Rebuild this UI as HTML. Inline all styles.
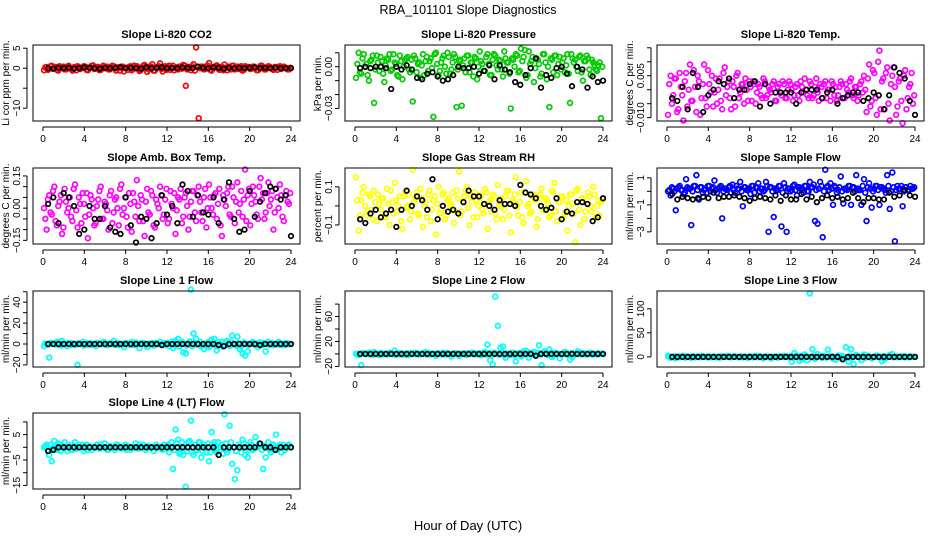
<!DOCTYPE html>
<html><head><meta charset="utf-8"><title>RBA_101101 Slope Diagnostics</title>
<style>
html,body{margin:0;padding:0;background:#fff;}
svg{display:block;font-family:"Liberation Sans",Arial,sans-serif;}
</style></head>
<body>
<svg id="chart" width="936" height="540" viewBox="0 0 936 540" xmlns="http://www.w3.org/2000/svg">
<rect width="936" height="540" fill="#fff"/>
<text x="468" y="14" text-anchor="middle" font-size="12.5">RBA_101101  Slope Diagnostics</text>
<text x="468" y="530" text-anchor="middle" font-size="13">Hour of Day (UTC)</text>
</svg>
<script>
// ---- data ----
const xTicks = [0,4,8,12,16,20,24];

const co2Raw = [-0.5,0.3,-0.2,0.6,0.1,-0.4,0.5,0.2,-0.3,0.4,0.0,-0.6,0.3,0.5,-0.2,0.1,0.4,-0.5,0.2,0.7,
-0.1,0.3,-0.4,0.6,0.2,-0.3,0.1,0.5,-0.6,0.2,0.4,-0.8,0.1,0.3,-0.5,0.6,0.5,-0.7,0.2,0.8,
-0.9,0.4,1.0,-0.6,0.3,1.2,-0.8,0.5,0.2,-0.4,0.6,0.1,-0.3,0.4,0.8,-4.4,0.3,-0.5,1.0,5.2,
-12.5,0.4,-0.3,0.5,1.3,-0.6,0.2,0.7,-0.4,0.3,0.9,-0.5,0.1,0.6,-0.3,0.4,0.2,-0.6,0.5,0.3,
-0.2,0.4,0.1,-0.5,0.6,0.2,-0.3,0.5,0.1,-0.4,0.3,0.2,-0.2,0.4,0.0,-0.3];
const co2RawB = [0.2,-0.4,0.5,-0.1,0.3,-0.6,0.1,0.4,-0.3,0.6,-0.2,0.2,-0.5,0.3,0.0,0.5,-0.4,0.1,0.6,-0.2,
0.3,-0.5,0.2,0.0,0.4,-0.3,0.6,-0.1,0.2,-0.6,0.4,0.1,-0.4,0.5,-0.2,0.3,0.0,-0.5,0.6,0.2,
-0.3,0.4,-0.6,0.1,0.5,-0.2,0.3,-0.4,0.6,0.0,-0.5,0.2,0.4,-0.1,0.7,-0.3,0.1,0.5,-0.6,0.3,
0.0,0.4,-0.2,0.6,-0.4,0.2,0.5,-0.1,0.3,-0.5,0.1,0.4,-0.3,0.6,0.0,-0.2,0.5,-0.4,0.2,0.3,
-0.1,0.4,-0.5,0.2,0.6,-0.3,0.1,0.4,-0.2,0.3,-0.4,0.5,0.0,0.2,-0.3,0.1];
const co2Avg = [0,-0.1,0.1,0,0.1,-0.1,0,0.2,0.1,0,-0.1,0.1,0,0.1,0.2,0,0.1,0,-0.1,0.2,0,0.1,0.2,0,0.1,0,0.2,0.1,0,0.4,0.1,0,0.2,0.1,-0.1,0.1,0,0.1,0,0.1,0.2,0,0.1,0,0.1,0,0,0];

const presRaw = [-0.008,0.01,-0.005,0.009,0.002,-0.01,0.005,-0.026,0.008,-0.003,0.004,-0.011,0.006,0.009,-0.002,0.003,-0.006,0.008,-0.009,0.005,
0.007,-0.004,-0.025,0.006,0.002,-0.008,0.009,0.004,-0.003,0.006,-0.036,0.01,-0.006,0.003,0.008,-0.005,0.007,-0.002,0.009,-0.029,
0.004,-0.028,0.006,0.008,-0.004,0.003,0.007,-0.009,0.011,0.002,-0.003,0.009,-0.006,0.005,0.008,-0.002,0.004,-0.007,0.006,0.003,
-0.03,0.005,0.009,-0.004,0.013,0.007,-0.008,0.011,0.004,-0.011,0.006,0.002,-0.005,0.009,-0.009,-0.029,0.005,0.008,-0.006,0.007,
0.003,-0.004,0.009,-0.026,0.006,0.005,-0.003,0.008,-0.01,0.004,0.006,-0.006,0.003,-0.002,0.001,-0.037];
const presRawB = [0.002,-0.004,0.006,0.0,-0.006,0.004,0.008,-0.002,0.003,0.007,-0.005,0.001,0.005,-0.003,0.009,0.002,-0.007,0.004,0.0,0.006,
-0.002,0.005,0.008,-0.004,0.003,0.001,-0.006,0.007,0.004,-0.001,0.009,0.002,-0.003,0.006,0.0,0.01,-0.005,0.003,0.007,-0.002,
0.005,0.001,-0.004,0.008,0.003,-0.007,0.006,0.0,0.004,-0.003,0.007,0.002,-0.006,0.009,0.001,0.005,-0.002,0.011,0.003,-0.005,
0.006,0.0,0.008,-0.003,0.004,0.012,-0.006,0.002,0.007,-0.001,0.005,-0.007,0.009,0.003,0.0,0.006,-0.004,0.008,0.002,-0.002,
0.006,0.001,-0.005,0.009,0.003,0.0,0.007,-0.004,0.004,0.008,-0.002,0.005,0.001,-0.003,0.003,0.0];
const presAvg = [-0.001,0,-0.001,0,0,-0.001,-0.016,0,-0.002,0.001,-0.002,-0.008,-0.009,-0.005,-0.004,-0.007,-0.01,-0.009,-0.006,0,-0.001,-0.001,0,-0.005,-0.003,0.001,-0.009,0.001,-0.002,-0.004,-0.011,-0.013,-0.006,-0.001,0.006,-0.015,-0.006,-0.008,-0.001,0,-0.005,-0.014,0,-0.002,-0.015,-0.007,-0.011,-0.01];

const tempRaw = [-0.009,0.005,-0.002,0.004,-0.007,0.001,-0.011,0.006,0.0,-0.004,0.007,-0.008,0.003,-0.003,0.009,-0.006,0.002,0.005,-0.001,-0.005,
0.004,-0.007,0.008,0.001,-0.003,0.003,-0.006,0.006,-0.001,0.002,0.004,-0.004,0.001,0.003,-0.005,0.002,-0.002,0.004,-0.003,0.001,
-0.001,0.003,-0.004,0.002,-0.002,0.002,-0.003,0.003,0.0,-0.002,0.002,-0.004,0.001,0.004,-0.002,0.003,-0.003,0.001,-0.001,0.002,
-0.003,0.003,0.0,-0.004,0.002,0.001,-0.002,0.003,-0.003,0.002,-0.001,0.004,-0.003,0.001,-0.002,0.003,0.005,-0.008,0.009,-0.004,
0.006,-0.009,0.014,0.003,-0.007,0.008,-0.011,0.005,0.001,-0.006,0.004,-0.012,0.007,-0.003,0.002,-0.005];
const tempRawB = [0.002,-0.005,0.004,-0.008,0.006,-0.002,0.003,-0.006,0.009,-0.004,0.001,0.005,-0.009,0.002,-0.003,0.007,-0.001,-0.006,0.004,0.0,
-0.004,0.006,-0.002,0.003,-0.007,0.001,0.005,-0.003,0.002,-0.005,0.0,0.003,-0.004,0.002,-0.001,0.001,-0.003,0.003,-0.002,0.0,
0.002,-0.004,0.001,-0.001,0.003,-0.003,0.0,0.002,-0.004,0.001,-0.002,0.003,-0.001,0.0,-0.003,0.002,-0.002,0.004,-0.004,0.001,
0.002,-0.003,0.0,0.003,-0.002,-0.004,0.001,0.002,-0.003,0.0,0.003,-0.002,0.001,-0.004,0.002,-0.001,0.0,0.004,-0.006,0.007,
-0.003,0.01,-0.007,0.004,0.006,-0.005,0.002,0.008,-0.009,0.003,-0.004,0.005,-0.007,0.001,0.006,-0.002];
const tempAvg = [-0.003,-0.004,0.001,-0.007,0.006,0.001,-0.008,-0.002,0.0,0.003,0.002,0.004,-0.003,0.0,0.0,0.002,0.003,-0.006,0.002,-0.005,-0.001,-0.001,-0.001,-0.001,-0.005,-0.001,0.0,0.0,0.0,-0.003,-0.001,0.0,-0.005,-0.003,-0.002,-0.001,-0.001,-0.004,-0.003,-0.001,-0.002,-0.007,-0.002,0.008,0.006,0.004,-0.004,-0.009];

const ambRaw = [0.0,-0.1,0.06,-0.03,0.1,-0.08,0.03,-0.12,0.09,-0.02,0.05,-0.06,0.11,-0.09,0.02,0.07,-0.04,-0.14,0.06,0.0,
-0.07,0.04,0.1,-0.05,0.02,-0.1,0.08,-0.02,0.05,-0.08,0.11,0.0,-0.04,0.07,-0.11,0.03,0.13,-0.06,0.04,-0.13,
0.09,-0.03,0.06,-0.09,0.02,0.1,-0.05,0.04,-0.07,0.08,0.0,-0.12,0.05,0.09,-0.04,0.07,-0.1,0.03,0.08,-0.06,
0.1,-0.02,0.05,-0.09,0.11,0.0,0.06,-0.05,0.09,-0.13,0.04,0.07,-0.03,0.1,-0.07,0.12,0.02,-0.04,0.18,0.06,
-0.08,0.1,0.03,-0.05,0.14,0.07,-0.02,0.12,0.04,-0.1,0.09,0.0,0.06,-0.06,0.08,0.02];
const ambRawB = [-0.05,0.04,-0.02,0.08,-0.06,0.01,0.06,-0.09,0.03,0.0,-0.04,0.09,-0.01,0.05,-0.07,0.02,0.07,-0.03,0.04,-0.08,
0.01,0.08,-0.05,0.03,-0.01,0.06,-0.07,0.04,0.0,0.09,-0.03,0.05,-0.09,0.02,0.07,-0.04,0.01,0.06,-0.06,0.03,
-0.02,0.08,-0.08,0.04,0.0,0.06,-0.03,0.09,-0.05,0.02,0.07,-0.01,0.04,-0.07,0.05,0.01,-0.04,0.08,-0.02,0.06,
0.03,-0.06,0.09,0.0,0.05,-0.03,0.07,0.02,-0.08,0.06,0.01,0.1,-0.04,0.05,0.03,-0.02,0.08,0.04,-0.06,0.09,
0.02,0.06,-0.03,0.1,0.04,-0.05,0.07,0.01,0.08,-0.02,0.05,0.11,-0.04,0.06,0.03,0.07];
const ambAvg = [0.02,0.05,-0.07,0.07,0.05,0.01,-0.12,-0.1,0.01,-0.05,-0.05,0.01,-0.09,-0.11,-0.12,0.05,-0.08,-0.16,-0.04,-0.05,-0.14,-0.07,0.06,-0.03,0.01,-0.07,0.11,0.08,-0.04,0.06,-0.02,-0.03,0.05,-0.07,0.04,0.12,-0.05,-0.11,-0.1,0.08,-0.04,0.03,0.07,0.1,0.09,0.04,0.06,-0.13];

const rhRaw = [0.15,-0.13,0.03,0.1,-0.05,0.06,-0.02,0.08,-0.08,0.01,0.04,-0.06,0.09,-0.1,0.02,0.12,-0.03,0.05,-0.12,0.07,
0.0,-0.07,0.19,0.04,-0.04,0.09,-0.11,0.02,0.06,-0.08,0.03,-0.15,0.1,-0.02,0.07,-0.05,0.04,0.01,-0.09,0.08,
0.18,-0.03,0.05,0.1,-0.1,0.02,0.07,-0.06,0.04,-0.02,0.09,-0.12,0.03,0.06,-0.04,0.11,0.0,-0.07,0.05,0.08,
-0.14,0.02,0.15,-0.05,0.07,-0.09,0.13,0.01,-0.03,0.06,-0.11,0.04,0.09,-0.02,0.03,-0.06,0.08,0.12,-0.08,0.02,
0.05,-0.04,-0.13,0.06,0.01,-0.19,0.09,-0.1,0.04,-0.03,0.07,0.0,0.1,-0.06,0.03,0.02];
const rhRawB = [0.03,-0.05,0.07,0.0,-0.03,0.05,-0.07,0.02,0.06,-0.02,0.04,-0.06,0.01,0.08,-0.04,0.03,0.0,-0.08,0.05,-0.01,
0.06,-0.03,0.02,0.07,-0.05,0.04,0.0,-0.06,0.08,-0.02,0.05,0.01,-0.04,0.06,-0.07,0.03,0.0,0.07,-0.03,0.04,
-0.05,0.02,0.08,-0.01,0.05,-0.06,0.03,0.0,0.06,-0.04,0.07,0.02,-0.03,0.05,-0.07,0.01,0.04,-0.02,0.08,-0.05,
0.03,0.06,-0.01,0.02,-0.06,0.07,0.0,-0.04,0.05,0.03,-0.07,0.06,-0.02,0.04,0.01,-0.05,0.07,-0.03,0.02,0.05,
-0.06,0.03,0.0,0.06,-0.04,0.08,-0.02,0.04,-0.07,0.01,0.05,-0.03,0.06,0.0,-0.05,0.03];
const rhAvg = [-0.07,-0.09,-0.04,-0.02,-0.06,-0.04,-0.02,-0.11,-0.02,0.08,0.0,0.05,0.03,-0.02,0.14,-0.07,0.0,-0.03,-0.02,-0.04,0.02,0.08,0.05,0.05,0.01,0.0,-0.02,0.03,0.01,0.01,0.0,0.11,0.07,0.06,0.04,0.0,-0.02,-0.01,0.04,-0.07,-0.03,-0.04,0.02,0.02,0.01,-0.08,-0.06,0.04];

const flowRaw = [0.0,-0.3,0.2,-1.4,0.3,0.1,-0.2,0.9,0.2,-2.5,0.4,1.2,-0.6,0.3,0.1,-0.1,0.4,0.2,0.8,-0.1,
0.3,-2.0,0.2,0.1,0.4,0.5,-0.1,0.2,0.7,-1.1,0.3,0.1,-0.2,0.4,0.3,0.6,0.2,0.0,0.7,-3.0,
0.3,-1.9,0.1,0.4,-2.6,0.6,-3.0,0.2,0.1,0.5,-0.3,0.3,0.2,0.4,0.0,0.7,0.3,-2.2,-2.4,0.7,
-3.4,1.6,0.4,0.6,-1.0,0.3,0.1,1.1,-0.9,0.2,0.4,-1.0,0.3,1.2,0.1,-1.0,0.9,-2.2,0.6,-1.2,
0.2,0.4,-1.0,0.3,0.1,1.2,-1.3,1.4,-3.7,0.4,0.2,-1.1,0.3,0.1,0.4,0.2];
const flowRawB = [0.1,0.3,0.0,0.2,0.4,0.1,-0.1,0.3,0.2,0.0,0.4,0.1,0.3,-0.1,0.2,0.4,0.0,0.3,0.1,0.2,
0.4,0.0,0.2,0.3,-0.1,0.1,0.4,0.2,0.0,0.3,0.1,0.2,0.4,-0.1,0.3,0.0,0.2,0.1,0.4,0.3,
0.0,0.2,0.1,0.4,-0.1,0.3,0.2,0.0,0.4,0.1,0.3,0.2,-0.1,0.4,0.0,0.3,0.5,0.1,0.2,0.4,
0.0,0.3,0.1,0.2,0.4,-0.1,0.3,0.0,0.2,0.1,0.4,0.3,0.0,0.2,0.1,0.4,-0.1,0.3,0.2,0.0,
0.4,0.1,0.3,0.2,-0.1,0.4,0.0,0.3,0.1,0.2,0.4,0.0,0.3,0.1,0.2,0.3];
const flowAvg = [-0.2,-0.6,-0.4,-0.5,-0.6,-0.5,-0.4,-0.5,-0.1,-0.5,-0.4,-0.4,-0.3,-0.4,-0.5,-0.7,-0.5,-0.4,-0.5,-0.6,-0.3,-0.7,-0.3,-0.6,-0.6,-0.2,-0.6,-0.4,-0.8,-0.5,-0.3,-0.5,-0.4,-0.6,-0.5,-0.1,-0.5,-0.8,-0.5,-0.5,-0.6,-0.6,-0.1,-0.4,-0.3,0.1,-0.3,-0.4];

const line1Raw = [-2,0,-13,1,0,2,-1,3,0,-2,1,0,-1,-20,0,2,0,-1,1,0,
-2,1,0,2,-1,0,1,3,0,-1,0,-3,1,0,2,-1,0,-4,1,0,
-3,0,1,-1,0,2,0,-1,1,0,-4,3,5,0,-8,-9,1,52,10,5,
0,-2,-5,1,-3,4,5,-6,0,2,-1,3,-2,8,0,7,-5,-9,-11,-7,
0,2,-1,-3,0,1,-7,2,0,-1,0,2,-1,0,1,0];
const line1Avg = [0,0,0,0,0,0,0,0,0,0,0,0,0,0,0,0,0,0,0,0,0,0,-1,0,0,0,0,0,0,0,0,0,0,-1,-2,0,0,0,0,0,0,-1,0,0,0,0,0,0];

const line2Raw = [0,-2,-18,1,0,2,-1,3,0,-2,1,0,-1,2,0,5,0,-1,1,0,
-2,1,0,2,-1,0,1,3,0,-1,0,-3,1,0,2,-1,0,-4,1,0,
-3,0,1,-1,0,2,0,-1,1,0,3,15,-10,-17,92,45,10,12,-6,0,
-2,2,-12,1,-4,4,5,-6,0,3,-1,14,-18,4,0,7,-5,2,1,-7,
0,3,-1,-9,-5,1,4,2,0,-1,0,2,-1,0,1,0];
const line2Avg = [0,0,0,0,0,0,0,0,0,0,0,0,0,0,0,0,0,0,0,0,0,0,0,0,0,0,0,0,0,0,0,0,0,0,-3,0,0,0,0,0,0,0,0,0,0,0,0,0];

const line3Raw = [2,-2,0,-3,1,0,2,-1,0,-2,1,0,-1,2,0,1,0,-1,1,0,
-2,1,0,2,-1,0,1,0,0,-1,0,-2,1,0,2,-1,0,-3,1,0,
-3,0,1,-1,0,2,0,-1,-10,8,3,-8,-5,5,-7,132,16,-4,6,2,
-2,0,15,1,-4,-6,3,-2,0,20,-10,16,-15,4,0,-7,5,2,1,-3,
0,3,-1,-9,-5,1,4,6,0,-1,0,2,-1,0,1,0];
const line3Avg = [0,0,0,0,0,0,0,0,0,0,0,0,0,0,0,0,0,0,0,0,0,0,0,0,0,0,0,0,0,0,0,0,0,-5,0,0,0,0,0,0,0,0,0,0,0,0,0,0];

const line4Raw = [0,1,-3,-5.5,2.5,-1,1,0,2,-1.5,0,-1,2,0,0,1,0,-1,0,0,
0,0,1,0,0,-1,0,0,1,0,0,0,-1,0,0,0,0,1,0,0,
0,0,0,0,0,0,-1,0,1,0,-8.5,7,3,-2,-3,-15.5,2,10.5,-3,-1,
2,-4,1,-2,-5.5,6,2,-2,0,1,13,-2,8.5,-6.5,-12.5,-9,0,3,-3,-4,
2,-1,4,0,1,-8.5,-4,2,-2,1,5,0,-2,1,0,1];
const line4Avg = [-1.5,-1,0,0,0,0,0,0,0,0,0,0,0,0,0,0,0,0,0,0,0,0,0,0,0,0,0,0,0,0,0,0,0,-3,0,0,0,0,0,0,0,1.5,0,0,-1,0,0,0];

// near-zero band of line-flow slopes (shared across line panels)
const lineBandRaw = [0.5,-1,1,0,-0.5,1.5,-1.5,0.5,0,1,-1,0.5,-0.5,1,0,-1.5,1,0.5,-1,0,
1,-0.5,0,1.5,-1,0.5,0,-1,1,0,-0.5,1,0.5,-1,0,1.5,-0.5,0,1,-1,
0.5,0,-1.5,1,0,-0.5,1,0.5,-2,2,-1,1.5,-2.5,2,0,-1.5,2.5,-2,1,-1,
2,-1.5,0,1.5,-2,1,-1,2,0,-2.5,1.5,-1,2,0,-1.5,1,-2,1.5,0,-1,
1,-0.5,0,1.5,-1,0.5,0,-1,1,0,-0.5,1,0,-1,0.5,0];

// ---- panel configuration (layout) ----
const panels = [
 {name:'co2',title:'Slope Li-820 CO2',ylab:'Li cor ppm per min.',col:0,row:0,dom:[-13.2,5.8],ticks:[-10,-5,0,5],labels:{'-10':'\u221210','0':'0','5':'5'},color:'#ff0000',raw:[co2Raw,co2RawB],avg:co2Avg},
 {name:'pressure',title:'Slope Li-820 Pressure',ylab:'kPa per min.',col:1,row:0,dom:[-0.039,0.0156],ticks:[-0.03,-0.02,-0.01,0,0.01],labels:{'-0.03':'\u22120.03','0':'0.00'},color:'#00cc00',raw:[presRaw,presRawB],avg:presAvg},
 {name:'li820-temp',title:'Slope Li-820 Temp.',ylab:'degrees C per min.',col:2,row:0,dom:[-0.0112,0.016],ticks:[-0.01,-0.005,0,0.005,0.01,0.015],labels:{'-0.01':'\u22120.010','0.005':'0.005'},color:'#ff00ff',raw:[tempRaw,tempRawB],avg:tempAvg},
 {name:'amb-box-temp',title:'Slope Amb. Box Temp.',ylab:'degrees C per min.',col:0,row:1,dom:[-0.167,0.187],ticks:[-0.15,-0.1,-0.05,0,0.05,0.1,0.15],labels:{'-0.15':'\u22120.15','0':'0.00','0.15':'0.15'},color:'#ff00ff',raw:[ambRaw,ambRawB],avg:ambAvg},
 {name:'gas-stream-rh',title:'Slope Gas Stream RH',ylab:'percent per min.',col:1,row:1,dom:[-0.2,0.199],ticks:[-0.1,0,0.1],labels:{'-0.1':'\u22120.1','0.1':'0.1'},color:'#ffff00',raw:[rhRaw,rhRawB],avg:rhAvg},
 {name:'sample-flow',title:'Slope Sample Flow',ylab:'ml/min per min.',col:2,row:1,dom:[-3.9,1.73],ticks:[-3,-2,-1,0,1],labels:{'-3':'\u22123','-1':'\u22121','1':'1'},color:'#0000ff',raw:[flowRaw,flowRawB],avg:flowAvg},
 {name:'line1-flow',title:'Slope Line 1 Flow',ylab:'ml/min per min.',col:0,row:2,dom:[-22,50.7],ticks:[-20,-10,0,10,20,30,40,50],labels:{'-20':'\u221220','0':'0','20':'20','40':'40'},color:'#00ffff',raw:[line1Raw,lineBandRaw],avg:line1Avg},
 {name:'line2-flow',title:'Slope Line 2 Flow',ylab:'ml/min per min.',col:1,row:2,dom:[-21,101],ticks:[-20,0,20,40,60,80],labels:{'-20':'\u221220','20':'20','60':'60'},color:'#00ffff',raw:[line2Raw,lineBandRaw],avg:line2Avg},
 {name:'line3-flow',title:'Slope Line 3 Flow',ylab:'ml/min per min.',col:2,row:2,dom:[-21,137],ticks:[0,50,100],labels:{'0':'0','50':'50','100':'100'},color:'#00ffff',raw:[line3Raw,lineBandRaw],avg:line3Avg},
 {name:'line4-flow',title:'Slope Line 4 (LT) Flow',ylab:'ml/min per min.',col:0,row:3,dom:[-16.4,13.5],ticks:[-15,-10,-5,0,5,10],labels:{'-15':'\u221215','-5':'\u22125','5':'5'},color:'#00ffff',raw:[line4Raw,lineBandRaw],avg:line4Avg}
];

const NS='http://www.w3.org/2000/svg';
const svg=document.getElementById('chart');
const colLeft=[33,345,657], rowTop=[45,168,291,413], boxW=267, boxH=76;
function mk(tag,attrs,parent){const e=document.createElementNS(NS,tag);for(const k in attrs)e.setAttribute(k,attrs[k]);(parent||svg).appendChild(e);return e;}

panels.forEach(p=>{
  const L=colLeft[p.col], T=rowTop[p.row], B=T+boxH, R=L+boxW;
  const xs=h=>L+10+h*(boxW-19)/24;
  const ys=v=>B-(v-p.dom[0])/(p.dom[1]-p.dom[0])*boxH;
  const g=mk('g',{});
  
  
  const t=mk('text',{x:(L+R)/2,y:T-7,'text-anchor':'middle','font-size':11,'font-weight':'bold'},g);
  t.textContent=p.title;
  
  
  const xa=mk('g',{},g);
  
  
  mk('line',{x1:xs(xTicks[0]),x2:xs(xTicks[xTicks.length-1]),y1:B+6,y2:B+6,stroke:'#000','stroke-width':1},xa);
  xTicks.forEach(v=>{
    mk('line',{x1:xs(v),x2:xs(v),y1:B+6,y2:B+10,stroke:'#000','stroke-width':1},xa);
    const tl=mk('text',{x:xs(v),y:B+21,'text-anchor':'middle','font-size':10},xa);
    tl.textContent=v;
    
    
  });
  const ya=mk('g',{},g);
  
  
  const yt=p.ticks;
  mk('line',{x1:L-6,x2:L-6,y1:ys(yt[0]),y2:ys(yt[yt.length-1]),stroke:'#000','stroke-width':1},ya);
  yt.forEach(v=>{
    mk('line',{x1:L-10,x2:L-6,y1:ys(v),y2:ys(v),stroke:'#000','stroke-width':1},ya);
    const key=String(v);
    if(p.labels[key]!==undefined){
      const yl=mk('text',{x:0,y:0,'text-anchor':'middle','font-size':10,transform:`translate(${L-13},${ys(v)}) rotate(-90)`},ya);
      yl.textContent=p.labels[key];
      
      
    }
  });
  const yl=mk('text',{x:0,y:0,'text-anchor':'middle','font-size':10,transform:`translate(${L-24},${(T+B)/2}) rotate(-90)`},g);
  yl.textContent=p.ylab;
  
  
  const rg=mk('g',{fill:'none',stroke:p.color,'stroke-width':1.7},g);
  
  
  p.raw.forEach((arr,k)=>{
    const n=arr.length, off=k*0.125;
    arr.forEach((v,i)=>{
      const c=mk('circle',{cx:xs(0.1+off+i*23.7/(n-1)),cy:ys(v),r:2.4},rg);
      
      
    });
  });
  const ag=mk('g',{fill:'none',stroke:'#000','stroke-width':1.7},g);
  
  
  const m=p.avg.length;
  p.avg.forEach((v,i)=>{
    const c=mk('circle',{cx:xs(0.5+i*23.5/(m-1)),cy:ys(v),r:2.3},ag);
    
    
  });
  const box=mk('rect',{x:L,y:T,width:boxW,height:boxH,fill:'none',stroke:'#000','stroke-width':1},g);
  
  
});
</script>
</body></html>
